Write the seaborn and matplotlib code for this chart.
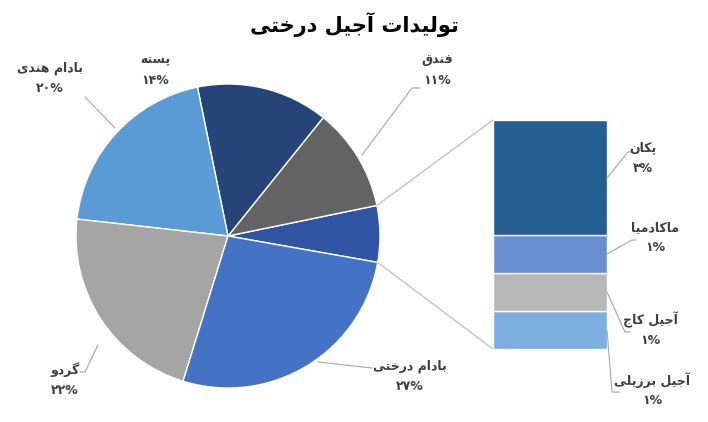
import numpy as np
import matplotlib
matplotlib.use("Agg")
import matplotlib.pyplot as plt
from matplotlib.patches import ConnectionPatch
import seaborn as sns

sns.set_theme(style="white")
plt.rcParams['font.family'] = ['DejaVu Sans']

# ---------- data ----------
pie_labels = ["سایر", "فندق", "پسته", "بادام هندی", "گردو", "بادام درختی"]
pie_values = [6, 11, 14, 20, 22, 27]
pie_pct = ["", "۱۱%", "۱۴%", "۲۰%", "۲۲%", "۲۷%"]
pie_colors = ["#2F55A4", "#636363", "#264478", "#5B9BD5", "#A5A5A5", "#4472C4"]

bar_labels = ["آجیل برزیلی", "آجیل کاج", "ماکادمیا", "پکان"]
bar_values = [1, 1, 1, 3]
bar_pct = ["۱%", "۱%", "۱%", "۳%"]
bar_colors = ["#7CAFDD", "#B7B7B7", "#698ED0", "#255E91"]
title = "تولیدات آجیل درختی"

# ---------- minimal Persian shaping ----------
DUAL = {
    'ب': (0xFE8F, 0xFE90, 0xFE91, 0xFE92), 'ت': (0xFE95, 0xFE96, 0xFE97, 0xFE98),
    'ج': (0xFE9D, 0xFE9E, 0xFE9F, 0xFEA0), 'خ': (0xFEA5, 0xFEA6, 0xFEA7, 0xFEA8),
    'س': (0xFEB1, 0xFEB2, 0xFEB3, 0xFEB4), 'ف': (0xFED1, 0xFED2, 0xFED3, 0xFED4),
    'ق': (0xFED5, 0xFED6, 0xFED7, 0xFED8), 'ل': (0xFEDD, 0xFEDE, 0xFEDF, 0xFEE0),
    'م': (0xFEE1, 0xFEE2, 0xFEE3, 0xFEE4), 'ن': (0xFEE5, 0xFEE6, 0xFEE7, 0xFEE8),
    'ه': (0xFEE9, 0xFEEA, 0xFEEB, 0xFEEC), 'ی': (0xFBFC, 0xFBFD, 0xFBFE, 0xFBFF),
    'پ': (0xFB56, 0xFB57, 0xFB58, 0xFB59), 'ک': (0xFB8E, 0xFB8F, 0xFB90, 0xFB91),
    'گ': (0xFB92, 0xFB93, 0xFB94, 0xFB95),
}
RIGHT = {'ا': (0xFE8D, 0xFE8E), 'آ': (0xFE81, 0xFE82), 'د': (0xFEA9, 0xFEAA),
         'ر': (0xFEAD, 0xFEAE), 'ز': (0xFEAF, 0xFEB0), 'و': (0xFEED, 0xFEEE)}

def shape(s):
    out = []
    n = len(s)
    for i, c in enumerate(s):
        prev_j = i > 0 and s[i-1] in DUAL
        next_j = i < n-1 and (s[i+1] in DUAL or s[i+1] in RIGHT)
        if c in DUAL:
            f = DUAL[c]
            if prev_j and next_j: out.append(chr(f[3]))
            elif prev_j: out.append(chr(f[1]))
            elif next_j: out.append(chr(f[2]))
            else: out.append(chr(f[0]))
        elif c in RIGHT:
            f = RIGHT[c]
            out.append(chr(f[1]) if prev_j else chr(f[0]))
        else:
            out.append(c)
    return "".join(out[::-1])

W, H = 708, 422
fig = plt.figure(figsize=(W/100, H/100), dpi=100)
def P(x, y):
    return (x / W, 1 - y / H)

# ---------- pie ----------
cx, cy, R = 228, 236, 152
axp = fig.add_axes([(cx-R)/W, (H-cy-R)/H, 2*R/W, 2*R/H])
wedges, _ = axp.pie(pie_values, colors=pie_colors, startangle=-10, counterclock=True,
                    wedgeprops=dict(linewidth=1, edgecolor="white"))
axp.set_xlim(-1, 1); axp.set_ylim(-1, 1); axp.set_aspect('equal'); axp.axis('off')

# ---------- bar ----------
bx0, bx1, by0, by1 = 493, 607, 120, 349
axb = fig.add_axes([bx0/W, (H-by1)/H, (bx1-bx0)/W, (by1-by0)/H])
bottoms = np.concatenate([[0], np.cumsum(bar_values)[:-1]])
axb.bar([0]*len(bar_values), bar_values, bottom=bottoms, color=bar_colors, width=1,
        edgecolor="white", linewidth=1)
axb.set_xlim(-0.5, 0.5); axb.set_ylim(0, sum(bar_values)); axb.axis('off')

# connectors
w0 = wedges[0]
for ang, yb in [(w0.theta2, sum(bar_values)), (w0.theta1, 0)]:
    a = np.deg2rad(ang)
    con = ConnectionPatch(xyA=(np.cos(a), np.sin(a)), coordsA=axp.transData,
                          xyB=(-0.5, yb), coordsB=axb.transData, color="#BFBFBF", lw=0.9)
    fig.add_artist(con)

# ---------- labels ----------
tc = "#404040"
def lab(name, pct, x, y, line=None):
    fig.text(*P(x, y), shape(name), ha='center', va='center', fontsize=9, color=tc, weight='bold')
    fig.text(*P(x, y+20), pct, ha='center', va='center', fontsize=9, color=tc, weight='bold')
    if line:
        xs = [P(px, py)[0] for px, py in line]
        ys = [P(px, py)[1] for px, py in line]
        fig.add_artist(plt.Line2D(xs, ys, transform=fig.transFigure, color="#A6A6A6", lw=0.8))

lab(pie_labels[1], pie_pct[1], 437, 60, [(362, 155), (412, 88), (420, 88)])
lab(pie_labels[2], pie_pct[2], 155, 60)
lab(pie_labels[3], pie_pct[3], 50, 68, [(115, 128), (85, 97)])
lab(pie_labels[4], pie_pct[4], 65, 370, [(98, 345), (85, 372), (80, 372)])
lab(pie_labels[5], pie_pct[5], 410, 366, [(318, 362), (372, 368)])

lab(bar_labels[3], bar_pct[3], 643, 148, [(607, 178), (628, 152), (632, 152)])
lab(bar_labels[2], bar_pct[2], 655, 228, [(607, 254), (632, 240), (636, 240)])
lab(bar_labels[1], bar_pct[1], 650, 320, [(607, 292), (625, 332), (630, 332)])
lab(bar_labels[0], bar_pct[0], 652, 380, [(607, 330), (612, 392), (620, 392)])

fig.text(*P(354, 25), shape(title), ha='center', va='center', fontsize=15, weight='bold', color="#000000")

fig.savefig("out.png", dpi=100)
